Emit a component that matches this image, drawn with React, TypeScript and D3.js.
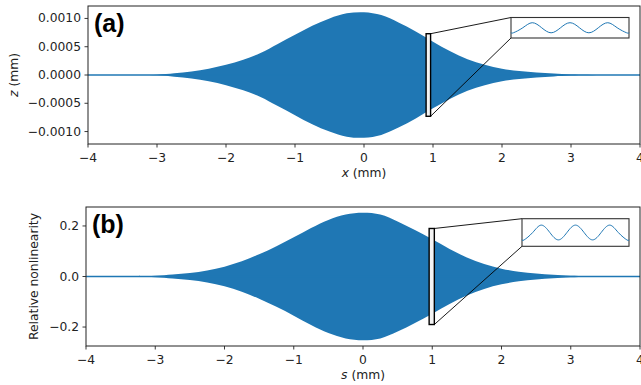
import React from 'react';
import * as d3 from 'd3';

// ---------- data ----------
const X_TICKS = [-4, -3, -2, -1, 0, 1, 2, 3, 4];
const X_TICK_LABELS = ['−4', '−3', '−2', '−1', '0', '1', '2', '3', '4'];

const ENV_X = [-4, -3.5, -3, -2.75, -2.5, -2.25, -2, -1.75, -1.5, -1.25, -1, -0.75, -0.5, -0.25, 0,
  0.25, 0.5, 0.75, 1, 1.25, 1.5, 1.75, 2, 2.25, 2.5, 2.75, 3, 3.5, 4];
// envelope of z (mm), panel (a)
const ENV_A = [0, 0, 0.000006, 0.00003, 0.00006, 0.00011, 0.00018, 0.00027, 0.00039, 0.00055, 0.00071,
  0.00087, 0.001, 0.00109, 0.00111, 0.00106, 0.00093, 0.00077, 0.00059, 0.00042, 0.00028, 0.00018,
  0.00011, 0.00007, 0.000045, 0.000025, 0.00001, 0, 0];
// envelope of relative nonlinearity, panel (b)
const ENV_B = [0, 0.001, 0.003, 0.008, 0.014, 0.024, 0.039, 0.06, 0.088, 0.12, 0.155, 0.192, 0.224,
  0.245, 0.252, 0.245, 0.218, 0.184, 0.147, 0.109, 0.075, 0.049, 0.031, 0.019, 0.012, 0.007, 0.003, 0.001, 0];

const Y_TICKS_A = [-0.001, -0.0005, 0, 0.0005, 0.001];
const Y_TICK_LABELS_A = ['−0.0010', '−0.0005', '0.0000', '0.0005', '0.0010'];
const Y_TICKS_B = [-0.2, 0, 0.2];
const Y_TICK_LABELS_B = ['−0.2', '0.0', '0.2'];

// zoomed region (data units)
const ZOOM_X_A = [0.9, 0.965];
const ZOOM_Y_A = [-0.00073, 0.00073];
const ZOOM_X_B = [0.955, 1.03];
const ZOOM_Y_B = [-0.19, 0.19];

// inset wave (position across inset window, value)
const WAVE_T = [0, 0.02, 0.1, 0.18, 0.26, 0.34, 0.42, 0.5, 0.58, 0.66, 0.74, 0.82, 0.9, 0.98, 1];
const WAVE_A = [-0.00062, -0.00064, 0, 0.00064, 0, -0.00064, 0, 0.00064, 0, -0.00064, 0, 0.00064, 0, -0.00064, -0.00062];
const WAVE_B = [-0.145, -0.15, 0, 0.15, 0, -0.15, 0, 0.15, 0, -0.15, 0, 0.15, 0, -0.15, -0.145];
const INSET_Y_A = [-0.0013, 0.0013];
const INSET_Y_B = [-0.28, 0.28];

const BLUE = '#1f77b4';
const FONT = 'DejaVu Sans, sans-serif';
const FS = 12.3;

type PanelProps = {
  left: number; right: number; top: number; bottom: number;
  yDomain: [number, number];
  yTicks: number[]; yTickLabels: string[];
  env: number[];
  zoomX: number[]; zoomY: number[];
  inset: { x0: number; x1: number; y0: number; y1: number };
  wave: number[]; insetY: number[];
  tag: string;
  xLabelVar: string;
  yLabel: React.ReactNode;
  yLabelX: number;
  id: string;
};

function Panel(p: PanelProps) {
  const x = d3.scaleLinear().domain([-4, 4]).range([p.left, p.right]);
  const y = d3.scaleLinear().domain(p.yDomain).range([p.bottom, p.top]);
  const pts = ENV_X.map((xv, i) => ({ x: xv, a: p.env[i] }));
  const area = d3.area<{ x: number; a: number }>()
    .x(d => x(d.x)).y0(d => y(-d.a)).y1(d => y(d.a))
    .curve(d3.curveCatmullRom.alpha(0.5))(pts) || '';
  const zeroLine = d3.line<number>().x(d => x(d)).y(() => y(0))([-4, 4]) || '';

  const bx0 = x(p.zoomX[0]), bx1 = x(p.zoomX[1]);
  const by0 = y(p.zoomY[1]), by1 = y(p.zoomY[0]);

  const ix = d3.scaleLinear().domain([0, 1]).range([p.inset.x0, p.inset.x1]);
  const iy = d3.scaleLinear().domain(p.insetY).range([p.inset.y1, p.inset.y0]);
  const wavePath = d3.line<number>().x((_, i) => ix(WAVE_T[i])).y(d => iy(d))
    .curve(d3.curveNatural)(p.wave) || '';

  const tc = '#222';
  return (
    <g>
      <defs>
        <clipPath id={p.id}>
          <rect x={p.left} y={p.top} width={p.right - p.left} height={p.bottom - p.top} />
        </clipPath>
      </defs>
      <g clipPath={`url(#${p.id})`}>
        <path d={area} fill={BLUE} />
        <path d={zeroLine} stroke={BLUE} strokeWidth={1.6} fill="none" />
      </g>
      {/* indicated zoom box */}
      <rect x={bx0} y={by0} width={bx1 - bx0} height={by1 - by0} fill="#f4f4f4" stroke="#000" strokeWidth={1.4} />
      <line x1={bx1} y1={by0} x2={p.inset.x0} y2={p.inset.y0} stroke="#000" strokeWidth={0.9} />
      <line x1={bx1} y1={by1} x2={p.inset.x0} y2={p.inset.y1} stroke="#000" strokeWidth={0.9} />
      {/* inset */}
      <rect x={p.inset.x0} y={p.inset.y0} width={p.inset.x1 - p.inset.x0} height={p.inset.y1 - p.inset.y0}
        fill="#fff" stroke="#333" strokeWidth={1.1} />
      <path d={wavePath} fill="none" stroke={BLUE} strokeWidth={1} />
      {/* frame */}
      <rect x={p.left} y={p.top} width={p.right - p.left} height={p.bottom - p.top} fill="none" stroke={tc} strokeWidth={1} />
      {/* x ticks */}
      {X_TICKS.map((t, i) => (
        <g key={'xt' + i}>
          <line x1={x(t)} x2={x(t)} y1={p.bottom} y2={p.bottom + 3.5} stroke={tc} strokeWidth={0.9} />
          <text x={x(t)} y={p.bottom + 14} textAnchor="middle" dominantBaseline="central"
            fontFamily={FONT} fontSize={FS} fill={tc}>{X_TICK_LABELS[i]}</text>
        </g>
      ))}
      {/* y ticks */}
      {p.yTicks.map((t, i) => (
        <g key={'yt' + i}>
          <line x1={p.left - 3.5} x2={p.left} y1={y(t)} y2={y(t)} stroke={tc} strokeWidth={0.9} />
          <text x={p.left - 7} y={y(t)} textAnchor="end" dominantBaseline="central"
            fontFamily={FONT} fontSize={FS} fill={tc}>{p.yTickLabels[i]}</text>
        </g>
      ))}
      {/* axis labels */}
      <text x={(p.left + p.right) / 2} y={p.bottom + 29} textAnchor="middle" dominantBaseline="central"
        fontFamily={FONT} fontSize={FS} fill={tc}>
        <tspan fontStyle="italic">{p.xLabelVar}</tspan> (mm)
      </text>
      <text transform={`translate(${p.yLabelX},${(p.top + p.bottom) / 2}) rotate(-90)`} textAnchor="middle"
        dominantBaseline="central" fontFamily={FONT} fontSize={FS} fill={tc}>
        {p.yLabel}
      </text>
      <text x={p.left + 6} y={p.top + 26} fontFamily="Liberation Sans, Arial, sans-serif" fontWeight="bold"
        fontSize={25} fill="#000">{p.tag}</text>
    </g>
  );
}

export default function App() {
  return (
    <svg width={641} height={385} style={{ position: 'absolute', left: 0, top: 0, background: '#fff' }}>
      <rect x={0} y={0} width={641} height={385} fill="#fff" />
      <Panel id="ca" left={88} right={640} top={6} bottom={144} yDomain={[-0.00122, 0.00122]}
        yTicks={Y_TICKS_A} yTickLabels={Y_TICK_LABELS_A} env={ENV_A}
        zoomX={ZOOM_X_A} zoomY={ZOOM_Y_A}
        inset={{ x0: 511, x1: 629, y0: 17.5, y1: 38 }} wave={WAVE_A} insetY={INSET_Y_A}
        tag="(a)" xLabelVar="x"
        yLabel={<><tspan fontStyle="italic">z</tspan> (mm)</>} yLabelX={14} />
      <Panel id="cb" left={86} right={640} top={207} bottom={346} yDomain={[-0.275, 0.275]}
        yTicks={Y_TICKS_B} yTickLabels={Y_TICK_LABELS_B} env={ENV_B}
        zoomX={ZOOM_X_B} zoomY={ZOOM_Y_B}
        inset={{ x0: 522, x1: 629, y0: 218.7, y1: 246.3 }} wave={WAVE_B} insetY={INSET_Y_B}
        tag="(b)" xLabelVar="s"
        yLabel="Relative nonlinearity" yLabelX={34} />
    </svg>
  );
}
